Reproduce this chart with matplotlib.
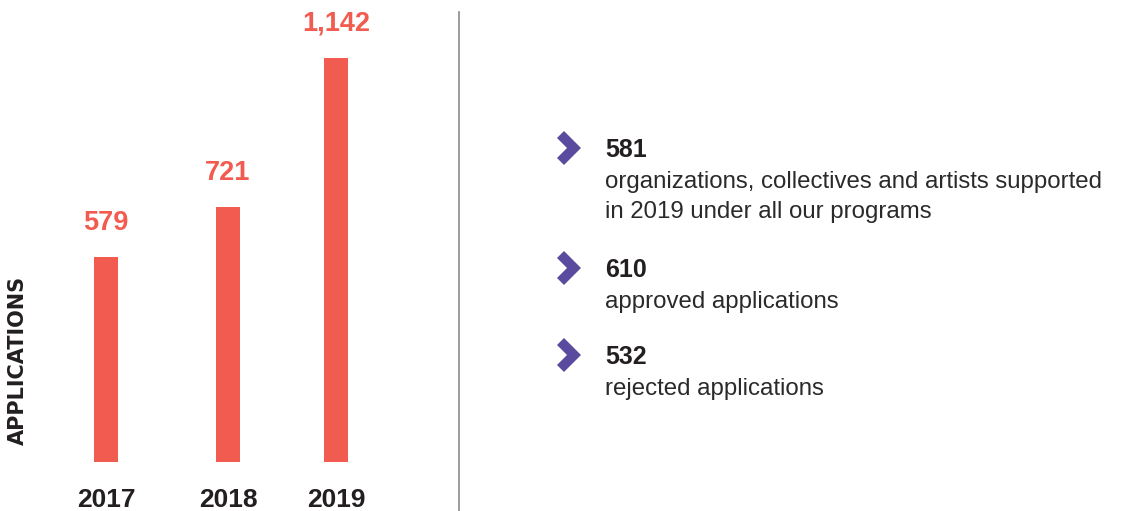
import matplotlib
matplotlib.use("Agg")
import matplotlib.pyplot as plt
from matplotlib.patches import Polygon

# ---- data ----
years = ["2017", "2018", "2019"]
applications = [579, 721, 1142]
value_labels = ["579", "721", "1,142"]
axis_title = "APPLICATIONS"

stat_numbers = ["581", "610", "532"]
stat_texts = [
    "organizations, collectives and artists supported\nin 2019 under all our programs",
    "approved applications",
    "rejected applications",
]

# ---- style ----
RED = "#F25C50"
PURPLE = "#5B4B9E"
DARK = "#231F20"
TEXT = "#2a2a2a"
FONT = "Liberation Sans"

W, H = 1135, 511
fig = plt.figure(figsize=(W / 100, H / 100), dpi=100)

# overlay axes in pixel coordinates (y down)
ov = fig.add_axes([0, 0, 1, 1])
ov.set_xlim(0, W)
ov.set_ylim(H, 0)
ov.axis("off")

# bar axes: baseline at pixel y=462
base_px = 462
ax = fig.add_axes([0, (H - base_px) / H, 460 / W, base_px / H])
ax.set_xlim(0, 460)
ax.set_ylim(0, 1306)
ax.axis("off")

bar_x = [106, 228, 336]
ax.bar(bar_x, applications, width=24, color=RED, zorder=2)
for x, v, lab in zip(bar_x, applications, value_labels):
    ax.annotate(lab, (x, v), xytext=(0, 19.5), textcoords="offset points",
                ha="center", va="baseline", color=RED, fontsize=19.5,
                fontweight="bold", family=FONT)

for x, yr in zip(bar_x, years):
    ov.text(x, 507, yr, ha="center", va="baseline", color=DARK,
            fontsize=19, fontweight="bold", family=FONT)

ov.text(17.5, 360, axis_title, rotation=90, ha="center", va="center",
        color=DARK, fontsize=15, fontweight="bold", family="DejaVu Sans")

# divider
ov.plot([458.5, 458.5], [12, H], color="#8a8a8a", lw=1.2)

# right-hand stats
num_baselines = [157, 277, 364]
for num, txt, yb in zip(stat_numbers, stat_texts, num_baselines):
    cy = yb - 9
    chev = [(557, cy - 10), (564, cy - 17), (581, cy), (564, cy + 17),
            (557, cy + 10), (567, cy)]
    ov.add_patch(Polygon(chev, closed=True, color=PURPLE, lw=0))
    ov.text(605, yb, num, ha="left", va="baseline", color=DARK,
            fontsize=18, fontweight="bold", family=FONT)
    for i, line in enumerate(txt.split("\n")):
        ov.text(605, yb + 31 + 30 * i, line, ha="left", va="baseline",
                color=TEXT, fontsize=17.25, family=FONT)

fig.savefig("out.png", dpi=100)
